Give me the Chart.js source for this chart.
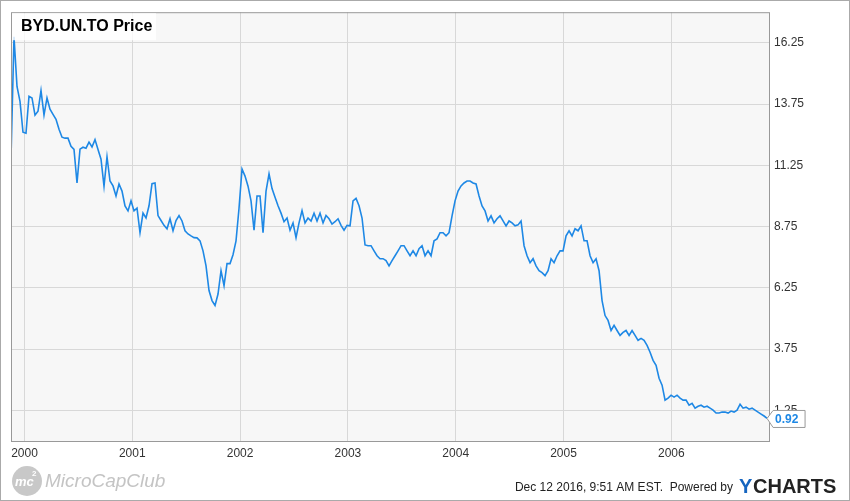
<!DOCTYPE html>
<html><head><meta charset="utf-8">
<script src="https://cdn.jsdelivr.net/npm/chart.js@4"></script>
<style>html,body{margin:0;padding:0;background:#fff}#w{width:850px;height:501px}</style>
</head><body><div id="w"><canvas id="c" width="850" height="501"></canvas></div>
<script>
const title = "BYD.UN.TO Price";
const startYear = 1999.875;
const stepYears = 0.02783;
const prices = [11.54,16.5,14.47,13.86,12.6,12.56,14.07,14.0,13.3,13.46,14.3,13.3,14.0,13.54,13.33,13.13,12.72,12.4,12.36,12.36,12.03,11.9,10.53,11.91,11.99,11.95,12.2,12.0,12.3,11.9,11.5,10.4,11.6,10.61,10.41,10.0,10.49,10.2,9.59,9.39,9.8,9.39,9.5,8.5,9.3,9.1,9.6,10.5,10.53,9.2,9.0,8.8,8.66,9.07,8.58,9.0,9.2,8.98,8.58,8.45,8.37,8.3,8.29,8.17,7.76,7.15,6.14,5.73,5.53,6.0,6.95,6.34,7.24,7.24,7.6,8.17,9.5,11.1,10.81,10.4,9.8,8.6,10.0,10.0,8.5,10.2,10.9,10.3,9.95,9.6,9.3,8.95,9.1,8.6,8.9,8.3,8.9,9.4,8.9,9.1,8.98,9.3,8.98,9.3,8.9,9.2,9.07,8.85,8.95,9.07,8.8,8.6,8.8,8.78,9.8,9.9,9.6,9.1,8.0,7.97,7.97,7.76,7.56,7.44,7.44,7.36,7.15,7.36,7.56,7.76,7.97,7.97,7.76,7.56,7.76,7.56,7.85,7.97,7.56,7.76,7.56,8.17,8.25,8.5,8.5,8.37,8.5,9.19,9.8,10.2,10.41,10.53,10.61,10.61,10.53,10.49,10.0,9.59,9.39,8.98,9.19,8.9,9.07,9.19,8.98,8.78,8.98,8.9,8.78,8.82,8.98,7.97,7.56,7.28,7.44,7.15,6.95,6.87,6.75,6.95,7.44,7.28,7.56,7.76,7.76,8.37,8.58,8.37,8.66,8.58,8.78,8.17,8.17,7.56,7.28,7.44,6.95,5.73,5.12,4.92,4.51,4.72,4.51,4.31,4.43,4.51,4.31,4.51,4.31,4.11,4.19,4.11,3.9,3.62,3.29,3.09,2.56,2.28,1.67,1.75,1.87,1.79,1.87,1.75,1.67,1.67,1.46,1.54,1.34,1.42,1.46,1.38,1.42,1.34,1.26,1.14,1.14,1.18,1.18,1.14,1.22,1.18,1.26,1.5,1.34,1.38,1.3,1.34,1.26,1.18,1.1,1.02,0.92];
const yTicks = [1.25,3.75,6.25,8.75,11.25,13.75,16.25];
const xTicks = [2000,2001,2002,2003,2004,2005,2006];
const lastLabel = "0.92";

const pts = prices.map((v,i)=>({x:startYear+i*stepYears, y:v}));
const FONT = "'Liberation Sans', Arial, sans-serif";

const deco = {
  id:'deco',
  beforeDraw(ch){
    const {ctx, chartArea:a} = ch;
    ctx.save(); ctx.fillStyle='#f7f7f7'; ctx.fillRect(a.left,a.top,a.right-a.left,a.bottom-a.top); ctx.restore();
  },
  afterDraw(ch){
    const {ctx, chartArea:a} = ch;
    ctx.save();
    ctx.strokeStyle='#999'; ctx.lineWidth=1;
    ctx.strokeRect(a.left+0.5,a.top+0.5,a.right-a.left,a.bottom-a.top);
    ctx.strokeStyle='#aaa'; ctx.strokeRect(0.5,0.5,849,500);
    ctx.fillStyle='rgba(255,255,255,0.8)'; ctx.fillRect(a.left+1,a.top+1,144,27);
    ctx.fillStyle='#000'; ctx.font="bold 16px "+FONT; ctx.textBaseline='middle';
    ctx.fillText(title, a.left+10, a.top+14);
    const meta = ch.getDatasetMeta(0); const p = meta.data[meta.data.length-1];
    const bx = p.x+6, by = p.y-8;
    ctx.fillStyle='#fff'; ctx.strokeStyle='#999';
    ctx.beginPath(); ctx.moveTo(p.x,p.y); ctx.lineTo(bx,by); ctx.lineTo(bx+32,by); ctx.lineTo(bx+32,by+17); ctx.lineTo(bx,by+17); ctx.closePath();
    ctx.fill(); ctx.stroke();
    ctx.fillStyle='#1e88e5'; ctx.font="bold 12px "+FONT; ctx.fillText(lastLabel,bx+2,by+9);
    ctx.fillStyle='#c8c8c8'; ctx.beginPath(); ctx.arc(27,481,15,0,Math.PI*2); ctx.fill();
    ctx.fillStyle='#fff'; ctx.font="bold italic 13px "+FONT; ctx.fillText('mc',15,482);
    ctx.font="bold 8px "+FONT; ctx.fillText('2',32,474);
    ctx.fillStyle='#c4c4c4'; ctx.font="italic 19px "+FONT; ctx.fillText('MicroCapClub',45,482);
    ctx.fillStyle='#222'; ctx.font="12px "+FONT; ctx.textAlign='right';
    ctx.fillText('Dec 12 2016, 9:51 AM EST.  Powered by',733,488);
    ctx.textAlign='left'; ctx.font="bold 20px "+FONT;
    ctx.fillStyle='#1565c0'; ctx.fillText('Y',739,487);
    ctx.fillStyle='#222'; ctx.fillText('CHARTS',753,487);
    ctx.restore();
  }
};

new Chart(document.getElementById('c'),{
  type:'line',
  data:{datasets:[{data:pts,borderColor:'#1e88e5',borderWidth:1.6,pointRadius:0,tension:0,fill:false}]},
  options:{
    responsive:false,animation:false,
    layout:{padding:{left:11,top:10,right:0,bottom:0}},
    plugins:{legend:{display:false},tooltip:{enabled:false}},
    scales:{
      x:{type:'linear',min:startYear,max:2006.906,
        afterBuildTicks(s){s.ticks=xTicks.map(v=>({value:v}));},
        afterFit(s){s.height=60;},
        grid:{color:'#d8d8d8',drawTicks:false},border:{display:false},
        ticks:{padding:5,color:'#333',font:{family:FONT,size:12},callback:v=>String(v),maxRotation:0}},
      y:{position:'right',min:0,max:17.5,
        afterBuildTicks(s){s.ticks=yTicks.map(v=>({value:v}));},
        afterFit(s){s.width=81;},
        grid:{color:'#d8d8d8',drawTicks:false},border:{display:false},
        ticks:{padding:5,color:'#333',font:{family:FONT,size:12},callback:v=>v.toFixed(2)}}
    }
  },
  plugins:[deco]
});
</script></body></html>
